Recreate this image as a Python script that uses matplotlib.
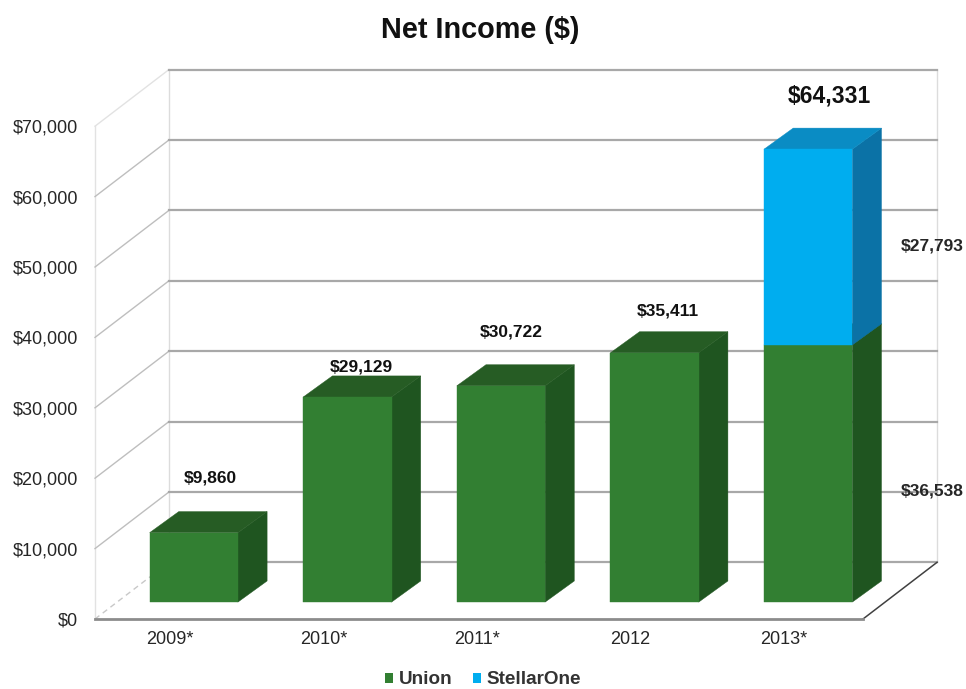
import matplotlib
matplotlib.use("Agg")
import matplotlib.pyplot as plt
from matplotlib.patches import Polygon, Patch
from matplotlib.transforms import ScaledTranslation

plt.rcParams['font.family'] = ['Liberation Sans', 'DejaVu Sans']

years = ['2009*', '2010*', '2011*', '2012', '2013*']
union = [9860, 29129, 30722, 35411, 36538]
stellarone = [0, 0, 0, 0, 27793]
y_ticks = [0, 10000, 20000, 30000, 40000, 50000, 60000, 70000]

# oblique projection, in data units (1 x unit = 153.6px, 10000 y = 70.4px)
FLOOR_DX, FLOOR_DY = 0.482, 8050
BAR_DX, BAR_DY = 0.19, 3000
SHIFT_DX, SHIFT_DY = 0.143, 2400
BAR_W = 0.575

W, H = 966, 689
fig = plt.figure(figsize=(W / 100, H / 100), dpi=100)
ax = fig.add_axes([95 / W, (H - 619) / H, 768 / W, 492.8 / H])
ax.set_xlim(-0.5, 4.5)
ax.set_ylim(0, 70000)
for s in ['top', 'left', 'right']:
    ax.spines[s].set_visible(False)
ax.spines['bottom'].set_color('#8c8c8c')
ax.spines['bottom'].set_linewidth(2)
ax.spines['bottom'].set_zorder(3)

x0, x1 = -0.5, 4.5
bx0, bx1 = x0 + FLOOR_DX, x1 + FLOOR_DX

# walls
ax.plot([x0, x0], [0, 70000], color='#e2e2e2', lw=1, clip_on=False, zorder=1)
ax.plot([bx0, bx0], [FLOOR_DY, 70000 + FLOOR_DY], color='#dcdcdc', lw=1, clip_on=False, zorder=1)
ax.plot([bx1, bx1], [FLOOR_DY, 70000 + FLOOR_DY], color='#dcdcdc', lw=1, clip_on=False, zorder=1)

# gridlines, side wall then back wall
for v in y_ticks:
    if v == 0:
        side_c, side_ls = '#c8c8c8', (0, (4, 3))
    elif v == 70000:
        side_c, side_ls = '#e2e2e2', '-'
    else:
        side_c, side_ls = '#bebebe', '-'
    ax.plot([x0, bx0], [v, v + FLOOR_DY], color=side_c, ls=side_ls, lw=1, clip_on=False, zorder=1)
    ax.plot([bx0, bx1], [v + FLOOR_DY, v + FLOOR_DY], color='#a8a8a8', lw=1.6, clip_on=False, zorder=1)

# front edge of the floor on the right
ax.plot([x1, bx1], [0, FLOOR_DY], color='#404040', lw=1.1, clip_on=False, zorder=2)


def draw_block(pos, base, height, front, top, side, z):
    left = pos - BAR_W / 2 + SHIFT_DX
    right = pos + BAR_W / 2 + SHIFT_DX
    y0 = base + SHIFT_DY
    y1 = base + height + SHIFT_DY
    ax.add_patch(Polygon([(right, y0), (right + BAR_DX, y0 + BAR_DY),
                          (right + BAR_DX, y1 + BAR_DY), (right, y1)],
                         fc=side, ec=side, lw=0.3, zorder=z, clip_on=False))
    ax.add_patch(Polygon([(left, y1), (right, y1), (right + BAR_DX, y1 + BAR_DY),
                          (left + BAR_DX, y1 + BAR_DY)],
                         fc=top, ec=top, lw=0.3, zorder=z, clip_on=False))
    ax.add_patch(Polygon([(left, y0), (right, y0), (right, y1), (left, y1)],
                         fc=front, ec=front, lw=0.3, zorder=z + 0.1, clip_on=False))


for i in range(len(years)):
    draw_block(i, 0, union[i], '#327f32', '#265c24', '#1f5520', 4)
    if stellarone[i] > 0:
        draw_block(i, union[i], stellarone[i], '#00adef', '#0a8cc4', '#0b72a6', 5)

ax.set_xticks(range(len(years)))
ax.set_xticklabels(years, fontsize=13, color='#262626')
ax.set_yticks(y_ticks)
ax.set_yticklabels(['${:,}'.format(v) for v in y_ticks], fontsize=13, color='#262626')
ax.tick_params(axis='both', length=0)
ax.tick_params(axis='x', pad=9)
ax.tick_params(axis='y', pad=12)
nudge = ScaledTranslation(-2 / 100, 0, fig.dpi_scale_trans)
for lab in ax.get_xticklabels():
    lab.set_transform(lab.get_transform() + nudge)

# data labels
totals = [u + s for u, s in zip(union, stellarone)]
label_off = [(39, 72), (36, 47), (32, 71), (35, 59), (43, 70)]
for i, t in enumerate(totals):
    big = stellarone[i] > 0
    ax.annotate('${:,}'.format(t), (i, t), xytext=label_off[i], textcoords='offset pixels',
                ha='center', va='center', fontsize=16.5 if big else 12.5,
                fontweight='bold', color='#111111', zorder=8, annotation_clip=False)
ax.annotate('${:,}'.format(stellarone[4]), (4, union[4] + stellarone[4] / 2),
            xytext=(146, 18), textcoords='offset pixels', ha='center', va='center',
            fontsize=12.5, fontweight='bold', color='#262626', annotation_clip=False, zorder=8)
ax.annotate('${:,}'.format(union[4]), (4, union[4] / 2), xytext=(146, -1),
            textcoords='offset pixels', ha='center', va='center',
            fontsize=12.5, fontweight='bold', color='#262626', annotation_clip=False, zorder=8)

fig.text(480 / W, 1 - 30 / H, 'Net Income ($)', ha='center', va='center',
         fontsize=20.8, fontweight='bold', color='#111111')

handles = [Patch(fc='#327f32', label='Union'), Patch(fc='#00adef', label='StellarOne')]
leg = fig.legend(handles=handles, loc='center', bbox_to_anchor=(483 / W, 1 - 680 / H), ncol=2,
                 frameon=False, handlelength=0.45, handleheight=0.45, handletextpad=0.28,
                 columnspacing=1.1, borderpad=0, prop={'size': 13.6, 'weight': 'bold'})
for t in leg.get_texts():
    t.set_color('#333333')

fig.savefig('out.png', dpi=100, facecolor='white')
